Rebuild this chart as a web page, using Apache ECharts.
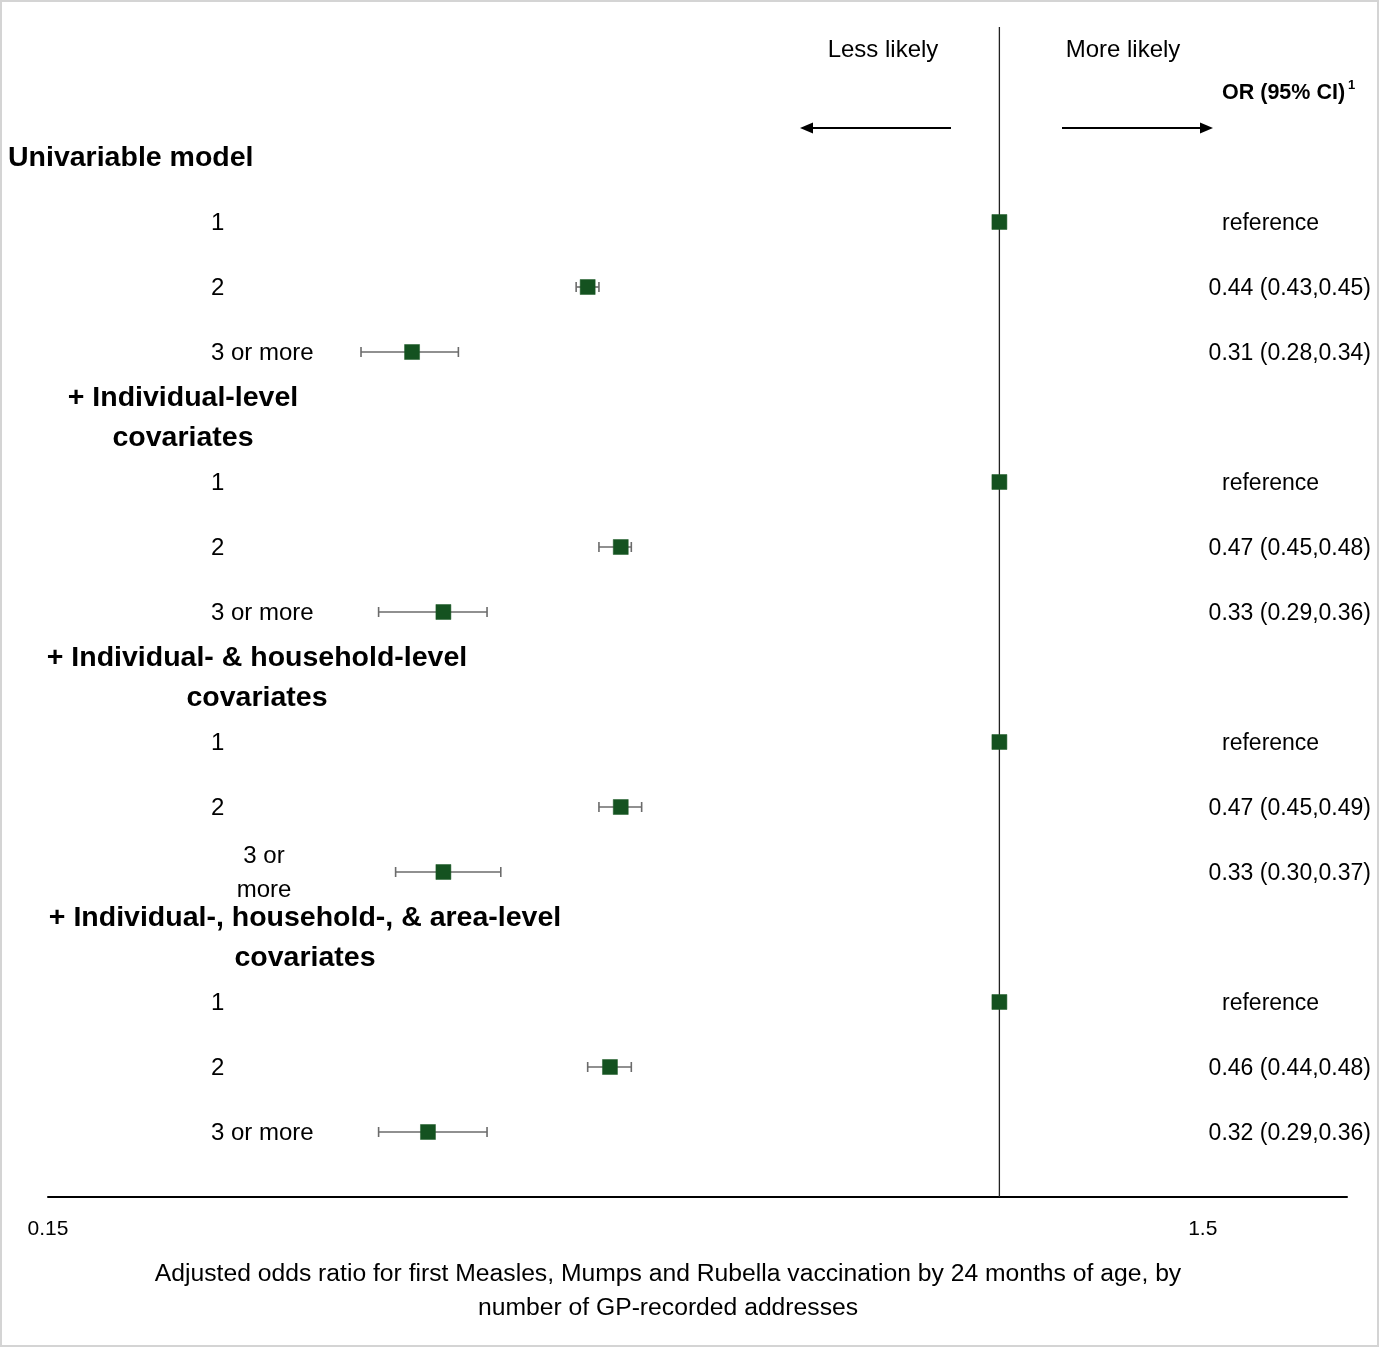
<!DOCTYPE html>
<html>
<head>
<meta charset="utf-8">
<script src="https://cdn.jsdelivr.net/npm/echarts@6/dist/echarts.min.js"></script>
<style>
html,body{margin:0;padding:0;background:#fff;}
#chart{width:1380px;height:1348px;}
</style>
</head>
<body>
<div id="chart"></div>
<script>
// ---------------- data ----------------
const groupTitles = [
  'Univariable model',
  '+ Individual-level\ncovariates',
  '+ Individual- & household-level\ncovariates',
  '+ Individual-, household-, & area-level\ncovariates'
];
const headingSlots = [0, 4, 8, 12];
const rowLabels = ['1', '2', '3 or more', '1', '2', '3 or more', '1', '2', '3 or\nmore', '1', '2', '3 or more'];
const rowSlots = [1, 2, 3, 5, 6, 7, 9, 10, 11, 13, 14, 15];
const orValues = [1, 0.44, 0.31, 1, 0.47, 0.33, 1, 0.47, 0.33, 1, 0.46, 0.32];
const ciLower  = [null, 0.43, 0.28, null, 0.45, 0.29, null, 0.45, 0.30, null, 0.44, 0.29];
const ciUpper  = [null, 0.45, 0.34, null, 0.48, 0.36, null, 0.49, 0.37, null, 0.48, 0.36];
const orLabels = ['reference', '0.44 (0.43,0.45)', '0.31 (0.28,0.34)',
                  'reference', '0.47 (0.45,0.48)', '0.33 (0.29,0.36)',
                  'reference', '0.47 (0.45,0.49)', '0.33 (0.30,0.37)',
                  'reference', '0.46 (0.44,0.48)', '0.32 (0.29,0.36)'];
const xTickValues = [0.15, 1.5];
const xTickLabels = ['0.15', '1.5'];
const xAxisTitle = 'Adjusted odds ratio for first Measles, Mumps and Rubella vaccination by 24 months of age, by\nnumber of GP-recorded addresses';
const nullValue = 1;

// ---------------- chart ----------------
const FONT = '"Liberation Sans", Arial, sans-serif';
const chart = echarts.init(document.getElementById('chart'), null, {renderer: 'canvas'});

const pointData = orValues.map((v, i) => [v, rowSlots[i]]);
const ciData = [];
orValues.forEach((v, i) => {
  if (ciLower[i] != null) ciData.push([ciLower[i], ciUpper[i], rowSlots[i]]);
});

chart.setOption({
  animation: false,
  backgroundColor: '#fff',
  grid: {left: 48, right: 33, top: 27, bottom: 151, containLabel: false},
  xAxis: {
    type: 'log', logBase: 10, min: 0.15, max: 2.0,
    axisLine: {show: true, onZero: false, lineStyle: {color: '#000', width: 2}},
    axisTick: {show: false}, axisLabel: {show: false}, splitLine: {show: false}
  },
  yAxis: {
    type: 'value', min: -2, max: 16, inverse: true, show: false
  },
  series: [
    {
      type: 'line', data: [[nullValue, -2], [nullValue, 16]], symbol: 'none',
      lineStyle: {color: '#222', width: 1.3}, silent: true, z: 1
    },
    {
      type: 'custom', data: ciData, z: 2,
      renderItem: function (params, api) {
        const p1 = api.coord([api.value(0), api.value(2)]);
        const p2 = api.coord([api.value(1), api.value(2)]);
        const h = 5;
        const st = {stroke: '#6b6b6b', lineWidth: 1.6};
        return {type: 'group', children: [
          {type: 'line', shape: {x1: p1[0], y1: p1[1], x2: p2[0], y2: p2[1]}, style: st},
          {type: 'line', shape: {x1: p1[0], y1: p1[1] - h, x2: p1[0], y2: p1[1] + h}, style: st},
          {type: 'line', shape: {x1: p2[0], y1: p2[1] - h, x2: p2[0], y2: p2[1] + h}, style: st}
        ]};
      }
    },
    {
      type: 'scatter', data: pointData, symbol: 'rect', symbolSize: 15, z: 3,
      itemStyle: {color: '#145220', opacity: 1, borderColor: '#1d5a26', borderWidth: 0.5}
    }
  ]
});

// text & annotations positioned via the axes
const yPix = s => chart.convertToPixel({yAxisIndex: 0}, s) + 1.5;
const xPix = v => chart.convertToPixel({xAxisIndex: 0}, v);
const g = [];
function txt(x, y, text, opt) {
  g.push({type: 'text', x: x, y: y, silent: true, style: Object.assign({
    text: text, fill: '#000', font: '24px ' + FONT,
    textAlign: 'left', textVerticalAlign: 'middle'
  }, opt || {})});
}

// border
g.push({type: 'rect', shape: {x: 1, y: 1, width: 1377, height: 1345},
  style: {fill: 'none', stroke: '#d4d4d4', lineWidth: 2}, silent: true});

// headings
const HFONT = 'bold 28.5px ' + FONT;
groupTitles.forEach((t, i) => {
  const y = yPix(headingSlots[i]);
  if (i === 0) {
    txt(8, y, t, {font: HFONT});
  } else {
    const cx = [0, 183, 257, 305][i];
    txt(cx, y, t, {font: HFONT, textAlign: 'center', lineHeight: 40});
  }
});

// row labels
rowLabels.forEach((t, i) => {
  const y = yPix(rowSlots[i]);
  if (t.indexOf('\n') >= 0) {
    txt(264, y, t, {textAlign: 'center', lineHeight: 34});
  } else {
    txt(211, y, t);
  }
});

// OR text column
orLabels.forEach((t, i) => {
  const y = yPix(rowSlots[i]);
  if (t === 'reference') txt(1222, y, t, {font: '23px ' + FONT});
  else txt(1371, y, t, {textAlign: 'right', font: '23px ' + FONT});
});

// header
txt(1222, 93, 'OR (95% CI)', {font: 'bold 21.5px ' + FONT});
txt(1348, 85, '1', {font: 'bold 13px ' + FONT});
txt(883, 50, 'Less likely', {textAlign: 'center'});
txt(1123, 50, 'More likely', {textAlign: 'center'});

// arrows
function arrow(xFrom, xTo, y) {
  const dir = xTo > xFrom ? 1 : -1;
  const L = 13, W = 5.5;
  g.push({type: 'line', silent: true, shape: {x1: xFrom, y1: y, x2: xTo - dir * L, y2: y},
    style: {stroke: '#000', lineWidth: 2}});
  g.push({type: 'polygon', silent: true, shape: {points: [[xTo, y], [xTo - dir * L, y - W], [xTo - dir * L, y + W]]},
    style: {fill: '#000'}});
}
arrow(951, 800, 128);
arrow(1062, 1213, 128);

// x tick labels
xTickValues.forEach((v, i) => {
  txt(xPix(v), 1229, xTickLabels[i], {font: '21px ' + FONT, textAlign: 'center'});
});

// x axis title
txt(668, 1291, xAxisTitle, {textAlign: 'center', lineHeight: 34, font: '24.7px ' + FONT});

chart.setOption({graphic: {elements: g}});
</script>
</body>
</html>
